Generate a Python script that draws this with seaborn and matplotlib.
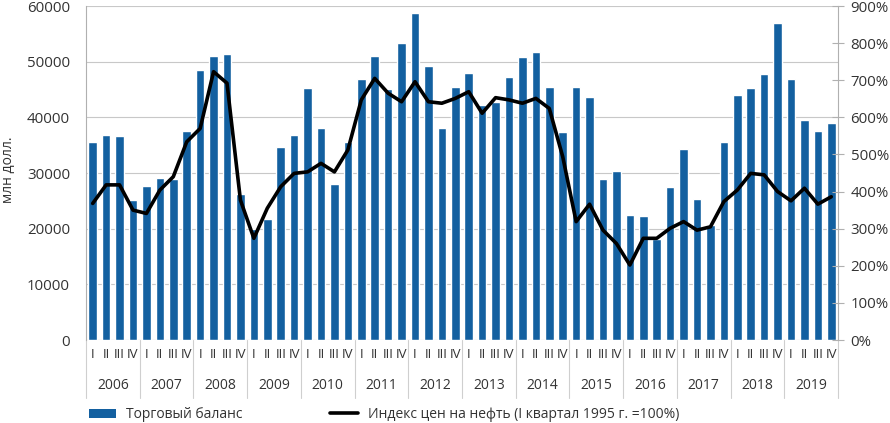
import matplotlib
matplotlib.use("Agg")
import matplotlib.pyplot as plt
import matplotlib.transforms as mtransforms
import seaborn as sns
import numpy as np
import pandas as pd
from matplotlib.patches import Patch
from matplotlib.lines import Line2D

years = [str(y) for y in range(2006, 2020)]
quarters = ["I", "II", "III", "IV"]

trade_balance = [
    35600, 36800, 36600, 25100,   # 2006
    27600, 29100, 29000, 37500,   # 2007
    48500, 51100, 51300, 26300,   # 2008
    20000, 21700, 34700, 36800,   # 2009
    45200, 38000, 28100, 35600,   # 2010
    46900, 51000, 45100, 53400,   # 2011
    58700, 49300, 38100, 45400,   # 2012
    47900, 42200, 42800, 47200,   # 2013
    50900, 51700, 45400, 37400,   # 2014
    45400, 43600, 28900, 30300,   # 2015
    22400, 22300, 18200, 27400,   # 2016
    34400, 25300, 20600, 35500,   # 2017
    44100, 45300, 47700, 57000,   # 2018
    46900, 39500, 37500, 39000,   # 2019
]

oil_index = [
    368, 418, 418, 350,
    341, 404, 440, 534,
    570, 723, 692, 377,
    274, 355, 413, 449,
    453, 476, 453, 512,
    647, 705, 665, 642,
    696, 642, 638, 651,
    669, 611, 653, 647,
    638, 651, 624, 494,
    319, 366, 296, 260,
    202, 274, 274, 301,
    319, 296, 305, 373,
    404, 449, 445, 400,
    375, 409, 366, 386,
]

labels_q = [q for y in years for q in quarters]
df = pd.DataFrame({
    "pos": np.arange(len(trade_balance)),
    "label": [f"{y}-{q}" for y in years for q in quarters],
    "trade": trade_balance,
    "oil": oil_index,
})

sns.set_style("white")
plt.rcParams["font.family"] = ["Open Sans", "DejaVu Sans"]

BAR = "#1360a0"
GRID = "#c8c8c8"
TXT = "#333333"

fig = plt.figure(figsize=(8.9, 4.23), dpi=100)
ax = fig.add_axes([86/890, 1-340/423, (838-86)/890, (340-6)/423])

sns.barplot(data=df, x="label", y="trade", color=BAR, width=0.64,
            saturation=1, ax=ax, zorder=2)
ax.set_xlim(-0.5, len(df) - 0.5)
ax.set_ylim(0, 60000)
ax.set_yticks(range(0, 60001, 10000))
ax.set_yticklabels([str(v) for v in range(0, 60001, 10000)])
ax.yaxis.grid(True, color=GRID, linewidth=0.8, zorder=0)
ax.set_axisbelow(True)
ax.set_xlabel("")
ax.set_ylabel("")
for s in ["top", "right", "bottom"]:
    ax.spines[s].set_visible(False)
ax.spines["left"].set_color("#b0b0b0")
ax.spines["left"].set_linewidth(0.8)
ax.tick_params(axis="y", length=0, labelsize=10.8, labelcolor=TXT, pad=11.5)

# quarter labels
ax.set_xticks(df["pos"])
ax.set_xticklabels(labels_q)
ax.tick_params(axis="x", length=0, labelsize=9.5, labelcolor=TXT, pad=6)
ax.set_xticks(np.arange(-0.5, len(df), 1), minor=True)
ax.tick_params(axis="x", which="minor", length=5, color="#e0c8a8", width=0.8)
ax.axhline(0, color="#e8dcc8", linewidth=0.8, zorder=1)

trans = mtransforms.blended_transform_factory(ax.transData, ax.transAxes)
for i, y in enumerate(years):
    ax.text(i*4 + 1.5, -0.135, y, transform=trans, ha="center", va="center",
            fontsize=10, color=TXT)
for i in range(len(years) + 1):
    ax.plot([i*4 - 0.5]*2, [0, -0.175], transform=trans, color="#cfcfcf",
            linewidth=0.8, clip_on=False, zorder=1)

ax2 = ax.twinx()
ax2.set_position(ax.get_position())
sns.lineplot(data=df, x="pos", y="oil", color="black", linewidth=2.6,
             ax=ax2, zorder=3, solid_joinstyle="round", solid_capstyle="round")
ax2.set_ylim(0, 900)
ax2.set_yticks(range(0, 901, 100))
ax2.set_yticklabels([f"{v}%" for v in range(0, 901, 100)])
ax2.set_ylabel("")
ax2.set_xlabel("")
for s in ["top", "left", "bottom"]:
    ax2.spines[s].set_visible(False)
ax2.spines["right"].set_color("#b0b0b0")
ax2.spines["right"].set_linewidth(0.8)
ax2.tick_params(axis="y", direction="inout", length=8, color="#b0b0b0",
                labelsize=10.8, labelcolor=TXT, pad=5)
ax2.set_xlim(-0.5, len(df) - 0.5)

fig.text(9/890, 1-170/423, "млн долл.", rotation=90, ha="center", va="center",
         fontsize=10, color=TXT)

handles = [Patch(facecolor=BAR, edgecolor="none"),
           Line2D([0], [0], color="black", linewidth=2.6)]
fig.legend(handles, ["Торговый баланс", "Индекс цен на нефть (I квартал 1995 г. =100%)"],
           loc="lower left", bbox_to_anchor=(76/890, -0.028), ncol=2, frameon=False,
           fontsize=10, handlelength=2.0, handletextpad=0.7, columnspacing=6.3,
           labelcolor=TXT)

fig.savefig("out.png", dpi=100)
